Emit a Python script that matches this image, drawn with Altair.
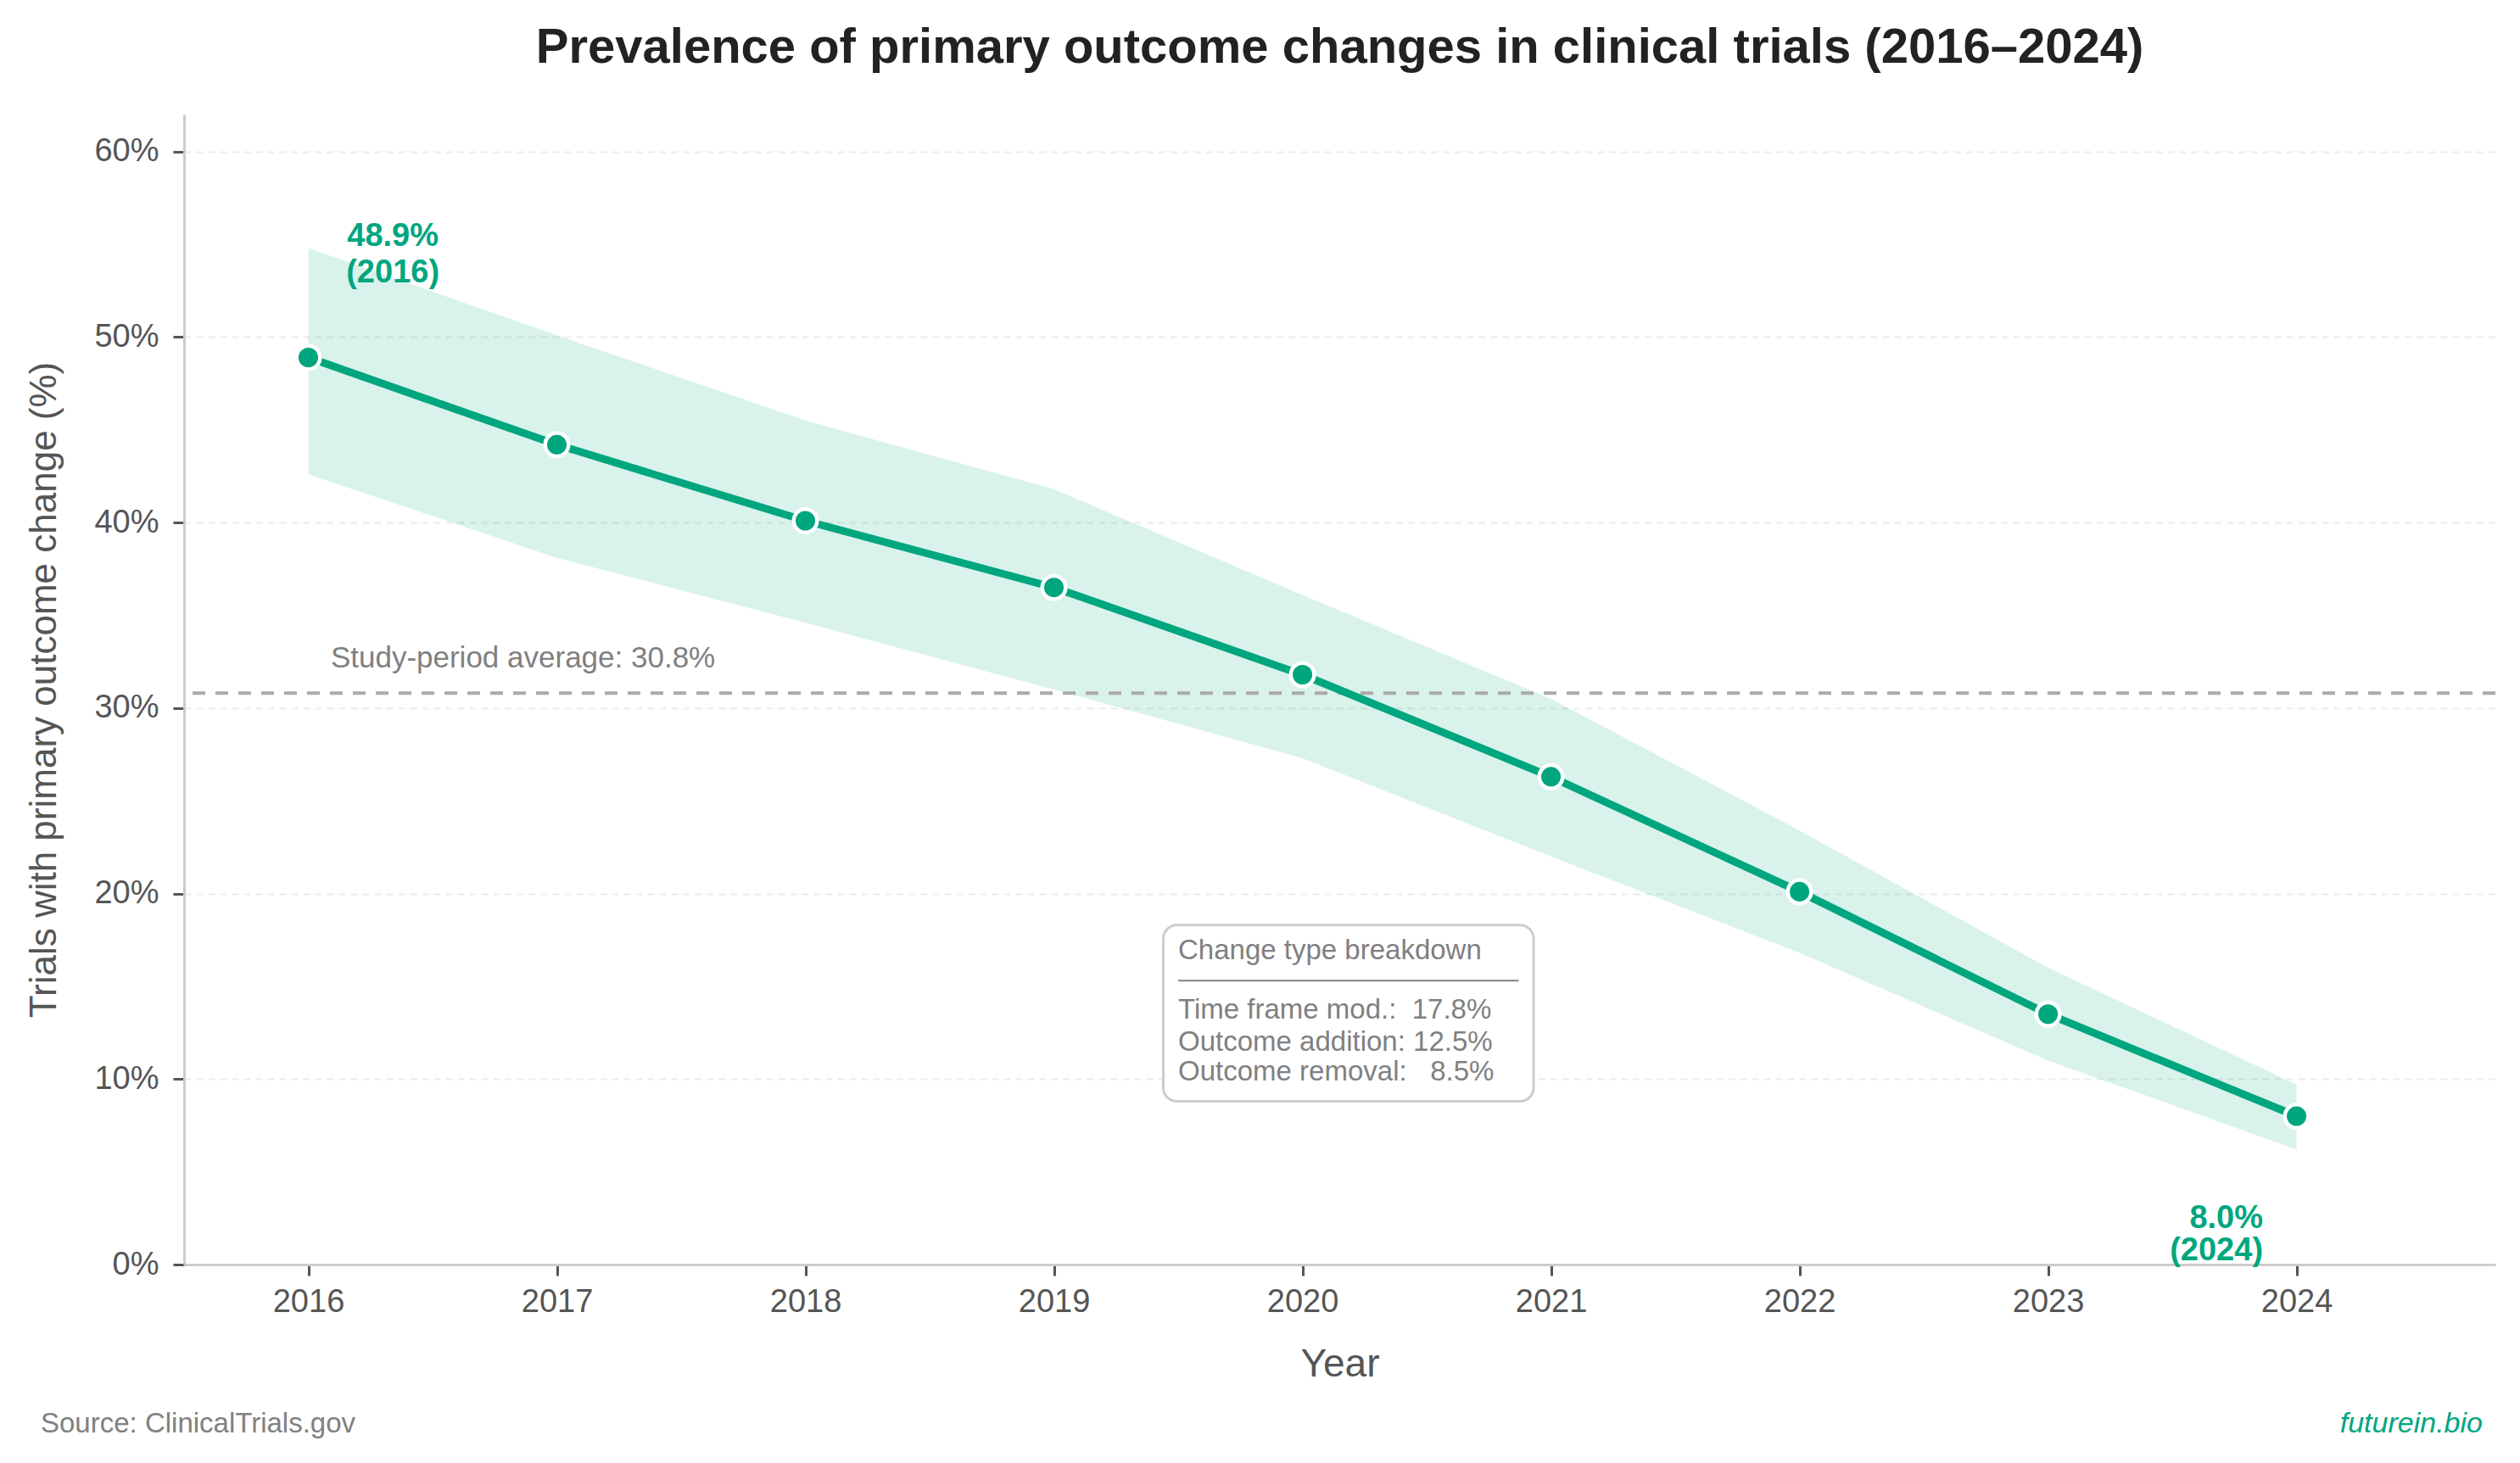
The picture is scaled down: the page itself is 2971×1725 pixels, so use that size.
import altair as alt
import pandas as pd

years = [2016, 2017, 2018, 2019, 2020, 2021, 2022, 2023, 2024]
rate = [48.9, 44.2, 40.1, 36.5, 31.8, 26.3, 20.1, 13.5, 8.0]
upper = [54.8, 50.1, 45.5, 41.8, 36.1, 30.5, 23.4, 16.0, 9.7]
lower = [42.6, 38.1, 34.6, 31.0, 27.3, 22.0, 16.8, 11.0, 6.2]
average = 30.8

box_lines = ["Change type breakdown",
             "Time frame mod.:\u00a0\u00a017.8%",
             "Outcome addition: 12.5%",
             "Outcome removal:\u00a0\u00a0\u00a08.5%"]
box_line_y = [16.9, 13.7, 12.0, 10.4]

GREEN = "#00a67e"
GRAY = "#808080"
FONT = "Liberation Sans"

W, H = 2725, 1356

df = pd.DataFrame({"year": years, "rate": rate, "upper": upper, "lower": lower})

xs = alt.Scale(domain=[2015.5, 2024.8], nice=False, zero=False)
ys = alt.Scale(domain=[0, 62], nice=False)

xax = alt.Axis(values=years, format="d", title="Year", labelFontSize=38, titleFontSize=46,
               labelColor="#555", titleColor="#555", tickColor="#555", tickSize=13, tickWidth=3,
               domainColor="#cccccc", domainWidth=3, labelPadding=12, titlePadding=32,
               grid=False, labelFont=FONT, titleFont=FONT, titleFontWeight="normal")
yax = alt.Axis(values=[0, 10, 20, 30, 40, 50, 60], labelExpr="datum.value + '%'",
               title="Trials with primary outcome change (%)", labelFontSize=38, titleFontSize=44,
               labelColor="#555", titleColor="#555", tickColor="#555", tickSize=13, tickWidth=3,
               domainColor="#cccccc", domainWidth=3, labelPadding=17, titlePadding=36,
               grid=True, gridColor="#ebebeb", gridDash=[8, 6], gridWidth=2,
               labelFont=FONT, titleFont=FONT, titleFontWeight="normal")

base = alt.Chart(df)

band = base.mark_area(color=GREEN, opacity=0.15).encode(
    x=alt.X("year:Q", scale=xs, axis=xax),
    y=alt.Y("lower:Q", scale=ys, axis=yax),
    y2="upper:Q",
)

avg_df = pd.DataFrame({"avg": [average]})
avg_rule = alt.Chart(avg_df).mark_rule(color="#aaaaaa", strokeDash=[15, 12], strokeWidth=4).encode(
    y=alt.Y("avg:Q", scale=ys)
)

avg_label_df = pd.DataFrame({"x": [2016.09], "y": [32.7], "t": [f"Study-period average: {average}%"]})
avg_label = alt.Chart(avg_label_df).mark_text(align="left", baseline="middle", fontSize=35,
                                               color=GRAY, font=FONT).encode(
    x=alt.X("x:Q", scale=xs), y=alt.Y("y:Q", scale=ys), text="t:N")

line = base.mark_line(color=GREEN, strokeWidth=9).encode(
    x=alt.X("year:Q", scale=xs), y=alt.Y("rate:Q", scale=ys))

pts = base.mark_point(filled=True, fill=GREEN, stroke="white", strokeWidth=4.5, size=760, opacity=1).encode(
    x=alt.X("year:Q", scale=xs), y=alt.Y("rate:Q", scale=ys))

ann_df = pd.DataFrame({
    "x": [2016.34, 2016.34, 2023.865, 2023.865],
    "y": [55.4, 53.45, 2.45, 0.73],
    "t": [f"{rate[0]}%", f"({years[0]})", f"{rate[-1]}%", f"({years[-1]})"],
    "a": ["center", "center", "right", "right"],
})
ann_c = alt.Chart(ann_df[ann_df.a == "center"]).mark_text(align="center", baseline="middle", fontSize=38,
                                                          fontWeight="bold", color=GREEN, font=FONT).encode(
    x=alt.X("x:Q", scale=xs), y=alt.Y("y:Q", scale=ys), text="t:N")
ann_r = alt.Chart(ann_df[ann_df.a == "right"]).mark_text(align="right", baseline="middle", fontSize=38,
                                                         fontWeight="bold", color=GREEN, font=FONT).encode(
    x=alt.X("x:Q", scale=xs), y=alt.Y("y:Q", scale=ys), text="t:N")

box_df = pd.DataFrame({"x": [2019.44], "x2": [2020.93], "y": [18.3], "y2": [8.8]})
box = alt.Chart(box_df).mark_rect(fill="white", stroke="#cccccc", strokeWidth=3, cornerRadius=16).encode(
    x=alt.X("x:Q", scale=xs), x2="x2:Q", y=alt.Y("y:Q", scale=ys), y2="y2:Q")

sep_df = pd.DataFrame({"x": [2019.50], "x2": [2020.87], "y": [15.3]})
sep = alt.Chart(sep_df).mark_rule(color=GRAY, strokeWidth=2).encode(
    x=alt.X("x:Q", scale=xs), x2="x2:Q", y=alt.Y("y:Q", scale=ys))

box_txt_df = pd.DataFrame({"x": [2019.50] * 4, "y": box_line_y, "t": box_lines})
box_txt = alt.Chart(box_txt_df).mark_text(align="left", baseline="middle", fontSize=33,
                                          color=GRAY, font=FONT).encode(
    x=alt.X("x:Q", scale=xs), y=alt.Y("y:Q", scale=ys), text="t:N")

foot_df = pd.DataFrame({"t": ["Source: ClinicalTrials.gov"]})
foot_l = alt.Chart(foot_df).mark_text(align="left", baseline="middle", fontSize=33, color=GRAY,
                                      font=FONT).encode(
    x=alt.value(-169), y=alt.value(1544), text="t:N")
foot2_df = pd.DataFrame({"t": ["futurein.bio"]})
foot_r = alt.Chart(foot2_df).mark_text(align="right", baseline="middle", fontSize=34, color=GREEN,
                                       fontStyle="italic", font=FONT).encode(
    x=alt.value(2710), y=alt.value(1544), text="t:N")

chart = alt.layer(band, avg_rule, avg_label, line, pts, box, sep, box_txt, ann_c, ann_r, foot_l, foot_r).properties(
    width=W, height=H,
    title=alt.TitleParams("Prevalence of primary outcome changes in clinical trials (2016\u20132024)",
                          fontSize=58, fontWeight="bold", color="#222222", font=FONT,
                          anchor="middle", offset=49),
    autosize=alt.AutoSizeParams(type="none"),
    padding={"left": 209, "top": 127, "right": 10, "bottom": 220},
    background="white",
).configure_view(stroke=None)

chart.save("out.html", embed_options={"renderer": "svg", "actions": False})
